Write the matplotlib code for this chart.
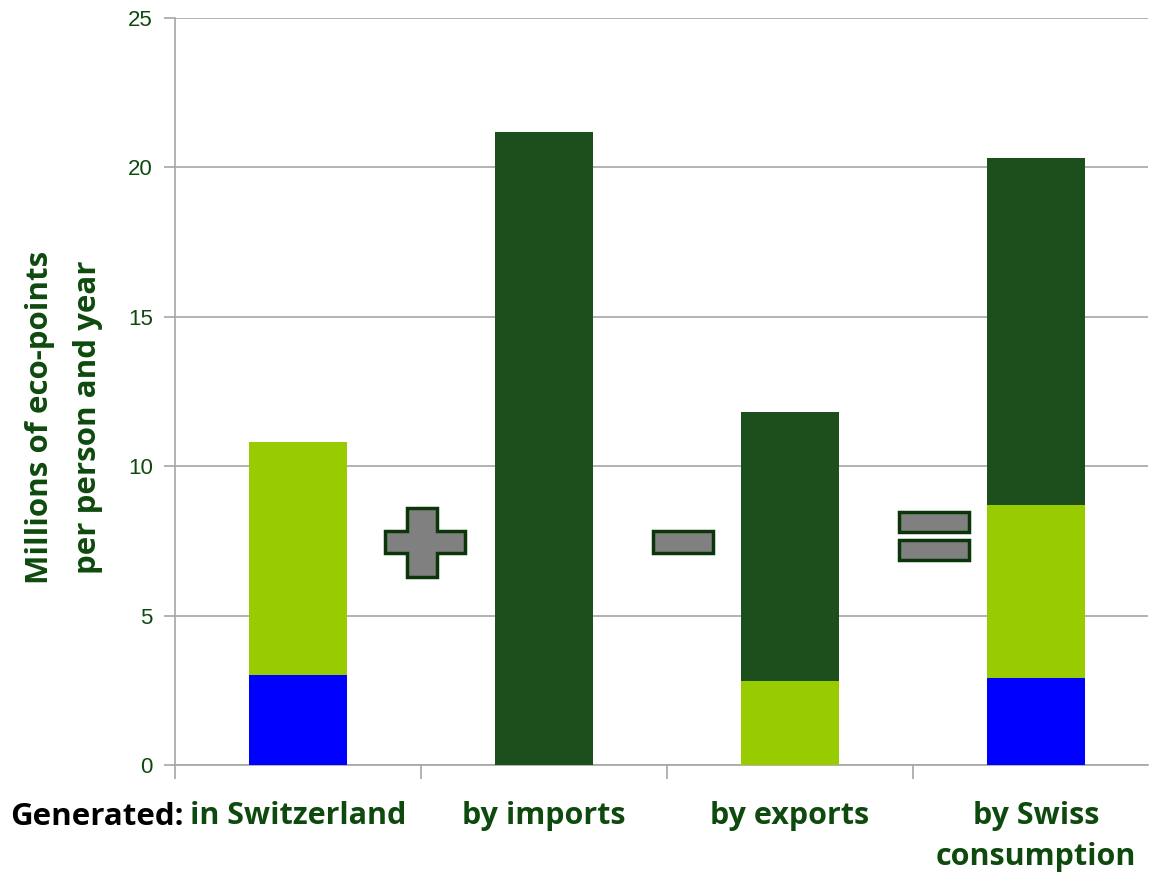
import matplotlib
matplotlib.use("Agg")
import matplotlib.pyplot as plt
from matplotlib.patches import Polygon
import numpy as np

categories = ["in Switzerland", "by imports", "by exports", "by Swiss\nconsumption"]
blue_vals = [3.0, 0.0, 0.0, 2.9]
light_vals = [7.8, 0.0, 2.8, 5.8]
dark_vals = [0.0, 21.2, 9.0, 11.6]
yticks = [0, 5, 10, 15, 20, 25]

BLUE = "#0000FF"
LIGHT = "#99CC00"
DARK = "#1C4F1C"
TXT = "#0E4A0E"
GRID = "#A6A6A6"

fig = plt.figure(figsize=(11.51, 8.73), dpi=100)
ax = fig.add_axes([175/1151, 1-765/873, (1148-175)/1151, (765-18)/873])

x = np.arange(len(categories))
w = 0.40
b1 = np.array(blue_vals)
b2 = np.array(light_vals)
b3 = np.array(dark_vals)
ax.bar(x, b1, w, color=BLUE, zorder=3)
ax.bar(x, b2, w, bottom=b1, color=LIGHT, zorder=3)
ax.bar(x, b3, w, bottom=b1 + b2, color=DARK, zorder=3)

ax.set_xlim(-0.5, 3.455)
ax.set_ylim(0, 25)
ax.set_yticks(yticks)
ax.set_yticklabels([str(t) for t in yticks], fontsize=16, color=TXT,
                   family="Liberation Sans")
ax.yaxis.grid(True, color=GRID, linewidth=1.2, zorder=0)
ax.tick_params(axis="y", length=8, color=GRID, width=1.2, pad=8)
ax.set_xticks([-0.5, 0.5, 1.5, 2.5])
ax.set_xticklabels([])
ax.tick_params(axis="x", length=10, color=GRID, width=1.2, direction="out")
for s in ["top", "right"]:
    ax.spines[s].set_visible(False)
for s in ["left", "bottom"]:
    ax.spines[s].set_color(GRID)
    ax.spines[s].set_linewidth(1.2)

# category labels
for xi, lab in zip(x, categories):
    ax.text(xi, -1.2, lab, ha="center", va="top", fontsize=22, fontweight="bold",
            color=TXT, family="Open Sans", linespacing=1.5)
fig.text(10/1151, 1-817/873, "Generated:", ha="left", va="center", fontsize=22.5,
         fontweight="bold", color="black", family="Open Sans")

fig.text(40/1151, 1-417/873, "Millions of eco-points", rotation=90, ha="center",
         va="center", fontsize=22.5, fontweight="bold", color=TXT, family="Open Sans")
fig.text(88/1151, 1-417/873, "per person and year", rotation=90, ha="center",
         va="center", fontsize=22.5, fontweight="bold", color=TXT, family="Open Sans")

def px(xp, yp):
    return (xp/1151, 1-yp/873)

SYM = dict(facecolor="#808080", edgecolor="#0A360A", linewidth=2.5,
           transform=fig.transFigure, zorder=5)
# plus
pts = [(407, 508), (437, 508), (437, 531), (465, 531), (465, 553), (437, 553),
       (437, 577), (407, 577), (407, 553), (385, 553), (385, 531), (407, 531)]
fig.patches.append(Polygon([px(*p) for p in pts], closed=True, **SYM))

def rect(x0, y0, x1, y1):
    return Polygon([px(x0, y0), px(x1, y0), px(x1, y1), px(x0, y1)], closed=True, **SYM)
# minus
fig.patches.append(rect(653, 531, 713, 553))
# equals
fig.patches.append(rect(899, 512, 969, 532))
fig.patches.append(rect(899, 540, 969, 560))

fig.savefig("out.png", dpi=100)
